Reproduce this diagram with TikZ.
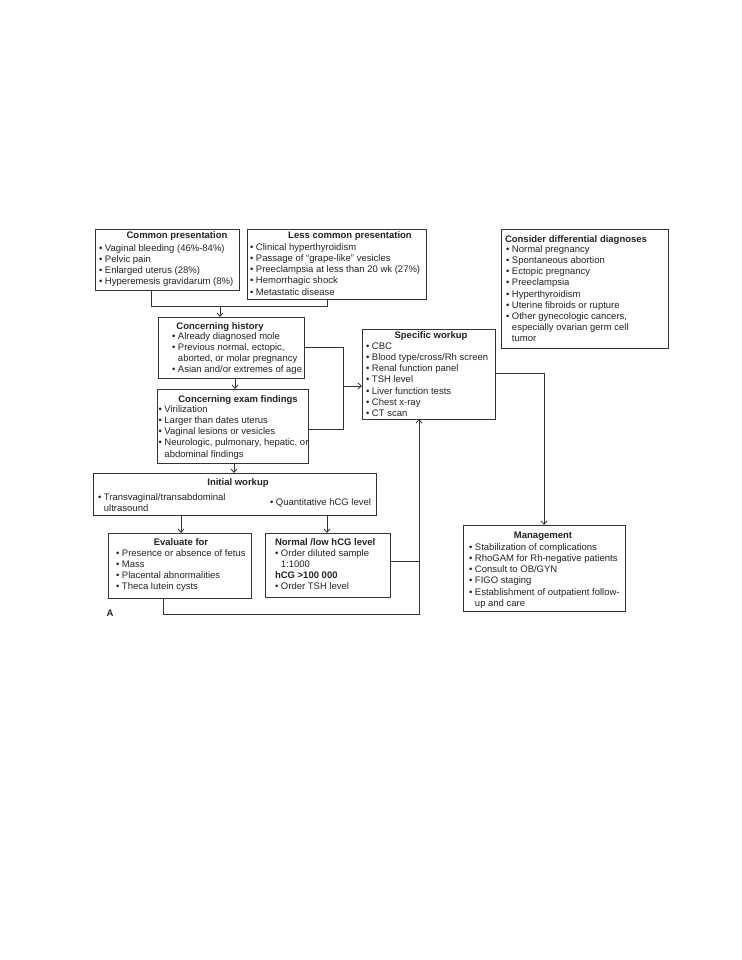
\documentclass[tikz,border=0pt]{standalone}
\usepackage{fontspec}
\setmainfont{Liberation Sans}
\usetikzlibrary{arrows.meta}
\definecolor{ink}{HTML}{222222}
\definecolor{linec}{HTML}{333333}
\newcommand\dfs{\fontsize{9.5}{11.2}\selectfont}
\newcommand\bul{\textbullet\ }
\newcommand\indnt{\phantom{\textbullet\ }}
\newcommand\st{\rule{0pt}{8pt}}
\begin{document}
\begin{tikzpicture}[x=1pt,y=-1pt,
  box/.style={draw=linec, line width=0.8pt, anchor=north west, inner sep=0pt, outer sep=0pt},
  txt/.style={anchor=north west, inner sep=0pt, outer sep=0pt, align=left, font=\dfs, text=ink},
  ttl/.style={anchor=base, inner sep=0pt, outer sep=0pt, font=\dfs\bfseries, text=ink},
  ttlw/.style={anchor=base west, inner sep=0pt, outer sep=0pt, font=\dfs\bfseries, text=ink},
  line/.style={draw=linec, line width=0.8pt},
  arr/.style={line, -{Straight Barb[length=3.5pt,width=6pt]}}]
\useasboundingbox (0,0) rectangle (741,960);

% boxes
\node[box, minimum width=144, minimum height=61] (common) at (95,229) {};
\node[box, minimum width=179, minimum height=70] (less) at (247,229) {};
\node[box, minimum width=167, minimum height=119] (consider) at (501,229) {};
\node[box, minimum width=146, minimum height=61] (history) at (158,317) {};
\node[box, minimum width=151, minimum height=74] (exam) at (157,389) {};
\node[box, minimum width=133, minimum height=90] (specific) at (362,329) {};
\node[box, minimum width=283, minimum height=42] (initial) at (93,473) {};
\node[box, minimum width=143, minimum height=65] (evaluate) at (108,533) {};
\node[box, minimum width=125, minimum height=64] (normal) at (265,533) {};
\node[box, minimum width=162, minimum height=86] (management) at (463,525) {};

% titles
\node[ttl] (commonT) at (177,238.3) {Common presentation};
\node[ttl] (lessT) at (350,238.3) {Less common presentation};
\node[ttlw] (considerT) at (505,242.3) {Consider differential diagnoses};
\node[ttl] (historyT) at (220,329.3) {Concerning history};
\node[ttl] (examT) at (238,402.3) {Concerning exam findings};
\node[ttl] (specificT) at (431,338.3) {Specific workup};
\node[ttl] (initialT) at (238,485.3) {Initial workup};
\node[ttl] (evaluateT) at (181,545.3) {Evaluate for};
\node[ttlw] (normalT) at (275,545.3) {Normal /low hCG level};
\node[ttl] (managementT) at (543,538.3) {Management};

% texts
\node[txt] (commonX) at (99,243.3) {\st\bul Vaginal bleeding (46\%-84\%)\\ \bul Pelvic pain\\ \bul Enlarged uterus (28\%)\\ \bul Hyperemesis gravidarum (8\%)};
\node[txt] (lessX) at (250,242.3) {\st\bul Clinical hyperthyroidism\\ \bul Passage of “grape-like” vesicles\\ \bul Preeclampsia at less than 20 wk (27\%)\\ \bul Hemorrhagic shock\\ \bul Metastatic disease};
\node[txt] (considerX) at (506,244.3) {\st\bul Normal pregnancy\\ \bul Spontaneous abortion\\ \bul Ectopic pregnancy\\ \bul Preeclampsia\\ \bul Hyperthyroidism\\ \bul Uterine fibroids or rupture\\ \bul Other gynecologic cancers,\\ \indnt especially ovarian germ cell\\ \indnt tumor};
\node[txt] (historyX) at (172,331.3) {\st\bul Already diagnosed mole\\ \bul Previous normal, ectopic,\\ \indnt aborted, or molar pregnancy\\ \bul Asian and/or extremes of age};
\node[txt] (examX) at (158.5,404.3) {\st\bul Virilization\\ \bul Larger than dates uterus\\ \bul Vaginal lesions or vesicles\\ \bul Neurologic, pulmonary, hepatic, or\\ \indnt abdominal findings};
\node[txt] (specificX) at (366,341.3) {\st\bul CBC\\ \bul Blood type/cross/Rh screen\\ \bul Renal function panel\\ \bul TSH level\\ \bul Liver function tests\\ \bul Chest x-ray\\ \bul CT scan};
\node[txt] (initialX) at (98,492.3) {\st\bul Transvaginal/transabdominal\\ \indnt ultrasound};
\node[txt] (initialY) at (270,497.3) {\st\bul Quantitative hCG level};
\node[txt] (evaluateX) at (116,548.3) {\st\bul Presence or absence of fetus\\ \bul Mass\\ \bul Placental abnormalities\\ \bul Theca lutein cysts};
\node[txt] (normalX) at (275,548.3) {\st\bul Order diluted sample\\ \indnt 1:1000\\ \textbf{hCG >100 000}\\ \bul Order TSH level};
\node[txt] (managementX) at (469,542.3) {\st\bul Stabilization of complications\\ \bul RhoGAM for Rh-negative patients\\ \bul Consult to OB/GYN\\ \bul FIGO staging\\ \bul Establishment of outpatient follow-\\ \indnt up and care};

\node[anchor=base, inner sep=0pt, font=\dfs\bfseries, text=ink] (lblA) at (110,616) {A};

% connectors
\coordinate (jtop) at (220,306);
\draw[line] ([xshift=56]common.south west) |- (jtop);
\draw[line] ([xshift=80]less.south west) |- (jtop);
\draw[arr] (jtop) -- (jtop |- history.north);
\draw[arr] ([xshift=77]history.south west) -- ([xshift=78]exam.north west);
\coordinate (jmid) at (343,386);
\draw[line] (history.east) -| (jmid);
\draw[line] ([yshift=-3]exam.east) -| (jmid);
\draw[arr] (jmid) -- (jmid -| specific.west);
\draw[arr] ([xshift=77]exam.south west) -- ([xshift=141]initial.north west);
\draw[arr] ([xshift=88]initial.south west) -- ([xshift=73]evaluate.north west);
\draw[arr] ([xshift=234]initial.south west) -- ([xshift=62]normal.north west);
\coordinate (jbot) at (419,614);
\draw[arr] ([xshift=55]evaluate.south west) |- (jbot) -- (jbot |- specific.south);
\draw[line] ([yshift=4]normal.east) -- ([yshift=4]normal.east -| jbot);
\draw[arr] ([yshift=1]specific.east) -| (management.north);
\end{tikzpicture}
\end{document}
